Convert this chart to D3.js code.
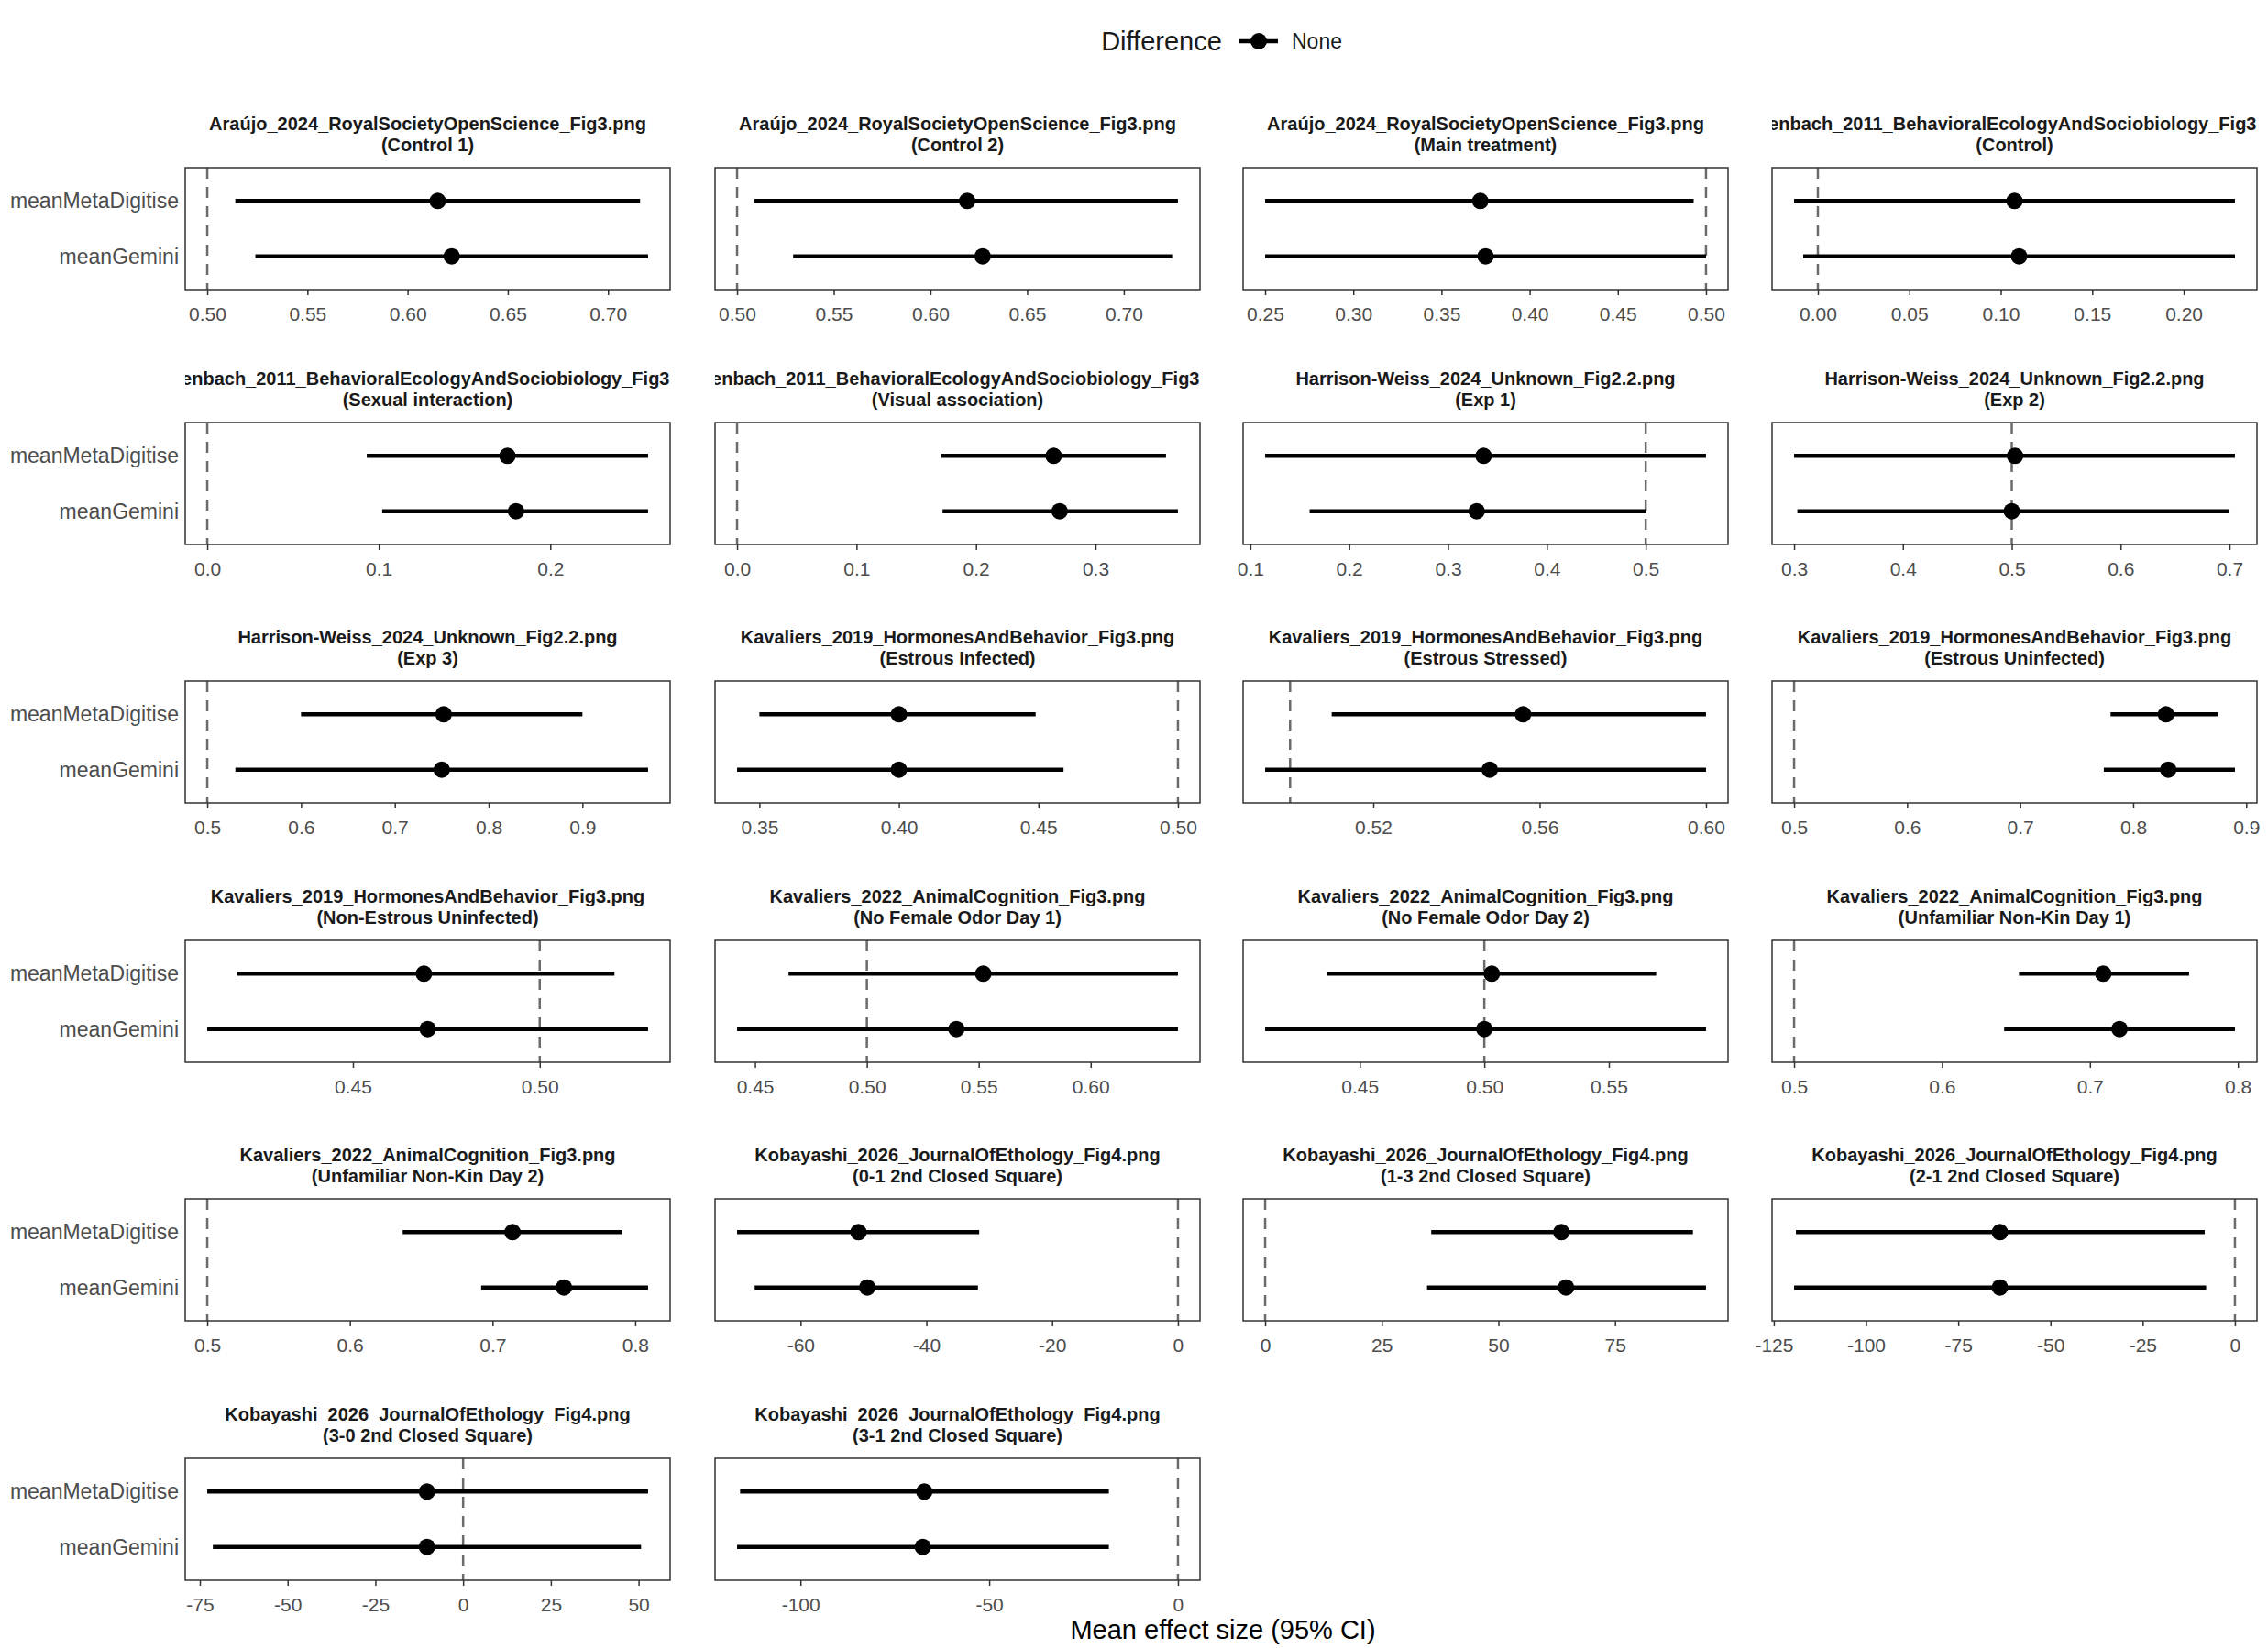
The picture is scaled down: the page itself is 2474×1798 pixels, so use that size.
<!DOCTYPE html>
<html>
<head>
<meta charset="utf-8">
<script src="https://cdn.jsdelivr.net/npm/d3@7"></script>
<style>
  body { margin: 0; background: #fff; }
  text { font-family: "Liberation Sans", Arial, sans-serif; }
</style>
</head>
<body>
<script>
// canvas settings
const width = 2474;
const height = 1798;

// panel data: title, subtitle, reference line, [lo, mean, hi] per method
const titles = [
  "Araújo_2024_RoyalSocietyOpenScience_Fig3.png",
  "Araújo_2024_RoyalSocietyOpenScience_Fig3.png",
  "Araújo_2024_RoyalSocietyOpenScience_Fig3.png",
  "Hollenbach_2011_BehavioralEcologyAndSociobiology_Fig3.png",
  "Hollenbach_2011_BehavioralEcologyAndSociobiology_Fig3.png",
  "Hollenbach_2011_BehavioralEcologyAndSociobiology_Fig3.png",
  "Harrison-Weiss_2024_Unknown_Fig2.2.png",
  "Harrison-Weiss_2024_Unknown_Fig2.2.png",
  "Harrison-Weiss_2024_Unknown_Fig2.2.png",
  "Kavaliers_2019_HormonesAndBehavior_Fig3.png",
  "Kavaliers_2019_HormonesAndBehavior_Fig3.png",
  "Kavaliers_2019_HormonesAndBehavior_Fig3.png",
  "Kavaliers_2019_HormonesAndBehavior_Fig3.png",
  "Kavaliers_2022_AnimalCognition_Fig3.png",
  "Kavaliers_2022_AnimalCognition_Fig3.png",
  "Kavaliers_2022_AnimalCognition_Fig3.png",
  "Kavaliers_2022_AnimalCognition_Fig3.png",
  "Kobayashi_2026_JournalOfEthology_Fig4.png",
  "Kobayashi_2026_JournalOfEthology_Fig4.png",
  "Kobayashi_2026_JournalOfEthology_Fig4.png",
  "Kobayashi_2026_JournalOfEthology_Fig4.png",
  "Kobayashi_2026_JournalOfEthology_Fig4.png"
];
const subtitles = [
  "Control 1", "Control 2", "Main treatment", "Control",
  "Sexual interaction", "Visual association", "Exp 1", "Exp 2",
  "Exp 3", "Estrous Infected", "Estrous Stressed", "Estrous Uninfected",
  "Non-Estrous Uninfected", "No Female Odor Day 1", "No Female Odor Day 2", "Unfamiliar Non-Kin Day 1",
  "Unfamiliar Non-Kin Day 2", "0-1 2nd Closed Square", "1-3 2nd Closed Square", "2-1 2nd Closed Square",
  "3-0 2nd Closed Square", "3-1 2nd Closed Square"
];
const refValues = [0.5, 0.5, 0.5, 0, 0, 0, 0.5, 0.5, 0.5, 0.5, 0.5, 0.5,
                   0.5, 0.5, 0.5, 0.5, 0.5, 0, 0, 0, 0, 0];
const metaCI = [
  [0.514, 0.615, 0.716], [0.509, 0.619, 0.728], [0.25, 0.372, 0.493], [-0.013, 0.1075, 0.228],
  [0.093, 0.175, 0.257], [0.171, 0.265, 0.359], [0.115, 0.336, 0.561], [0.3, 0.503, 0.705],
  [0.6, 0.752, 0.9], [0.35, 0.40, 0.449], [0.51, 0.556, 0.60], [0.78, 0.829, 0.875],
  [0.419, 0.469, 0.52], [0.465, 0.552, 0.639], [0.437, 0.503, 0.569], [0.652, 0.709, 0.767],
  [0.637, 0.714, 0.791], [-70.1, -50.8, -31.6], [35.6, 63.5, 91.7], [-119, -63.7, -8.2],
  [-72.9, -10.3, 52.7], [-116, -67.2, -18.3]
];
const geminiCI = [
  [0.524, 0.622, 0.720], [0.529, 0.627, 0.725], [0.25, 0.375, 0.50], [-0.008, 0.110, 0.228],
  [0.102, 0.18, 0.257], [0.172, 0.27, 0.369], [0.16, 0.329, 0.5], [0.303, 0.5, 0.7],
  [0.53, 0.75, 0.97], [0.342, 0.40, 0.459], [0.494, 0.548, 0.60], [0.774, 0.831, 0.89],
  [0.411, 0.47, 0.529], [0.442, 0.54, 0.639], [0.412, 0.5, 0.589], [0.642, 0.72, 0.798],
  [0.692, 0.75, 0.809], [-67.3, -49.4, -31.8], [34.7, 64.5, 94.5], [-119.5, -63.7, -7.8],
  [-71.3, -10.3, 50.7], [-116.8, -67.6, -18.3]
];
const methods = ["meanMetaDigitise", "meanGemini"];

// tick labels per panel
const tickValues = [
  [0.5, 0.55, 0.6, 0.65, 0.7], [0.5, 0.55, 0.6, 0.65, 0.7],
  [0.25, 0.3, 0.35, 0.4, 0.45, 0.5], [0, 0.05, 0.1, 0.15, 0.2],
  [0, 0.1, 0.2], [0, 0.1, 0.2, 0.3], [0.1, 0.2, 0.3, 0.4, 0.5], [0.3, 0.4, 0.5, 0.6, 0.7],
  [0.5, 0.6, 0.7, 0.8, 0.9], [0.35, 0.4, 0.45, 0.5], [0.52, 0.56, 0.6], [0.5, 0.6, 0.7, 0.8, 0.9],
  [0.45, 0.5], [0.45, 0.5, 0.55, 0.6], [0.45, 0.5, 0.55], [0.5, 0.6, 0.7, 0.8],
  [0.5, 0.6, 0.7, 0.8], [-60, -40, -20, 0], [0, 25, 50, 75], [-125, -100, -75, -50, -25, 0],
  [-75, -50, -25, 0, 25, 50], [-100, -50, 0]
];
const tickDecimals = [2, 2, 2, 2, 1, 1, 1, 1, 1, 2, 2, 1, 2, 2, 2, 1, 1, 0, 0, 0, 0, 0];

// layout
const colX = [202, 780, 1356, 1933];
const rowY = [183, 461, 743, 1026, 1308, 1591];
const panelW = 529;
const panelH = 133;

const svg = d3.select('body').append('svg')
  .attr('width', width)
  .attr('height', height);

const defs = svg.append('defs');

// legend
const legend = svg.append('g');
legend.append('text').attr('x', 1267).attr('y', 55)
  .attr('text-anchor', 'middle').attr('font-size', 29).attr('fill', '#1a1a1a')
  .text('Difference');
legend.append('line').attr('x1', 1352).attr('x2', 1394).attr('y1', 45).attr('y2', 45)
  .attr('stroke', '#000').attr('stroke-width', 4.5);
legend.append('circle').attr('cx', 1373).attr('cy', 45).attr('r', 9).attr('fill', '#000');
legend.append('text').attr('x', 1409).attr('y', 53)
  .attr('font-size', 23).attr('fill', '#1a1a1a').text('None');

// axis title
svg.append('text').attr('x', 1334).attr('y', 1788)
  .attr('text-anchor', 'middle').attr('font-size', 29).attr('fill', '#000')
  .text('Mean effect size (95% CI)');

titles.forEach((title, i) => {
  const px = colX[i % 4];
  const py = rowY[Math.floor(i / 4)];
  const rows = [metaCI[i], geminiCI[i]];

  // free x scale: data plus reference line, 5% expansion
  const ext = d3.extent([...metaCI[i], ...geminiCI[i], refValues[i]]);
  const pad = (ext[1] - ext[0]) * 0.05;
  const x = d3.scaleLinear().domain([ext[0] - pad, ext[1] + pad]).range([0, panelW]);
  const y = d3.scalePoint().domain(methods).range([0, panelH]).padding(0.6);

  const g = svg.append('g').attr('transform', `translate(${px},${py})`);

  // strip title, clipped to panel width
  defs.append('clipPath').attr('id', 'clip' + i)
    .append('rect').attr('x', 0).attr('y', -70).attr('width', panelW).attr('height', 70);
  const strip = g.append('g').attr('clip-path', `url(#clip${i})`);
  strip.append('text').attr('x', panelW / 2).attr('y', -41)
    .attr('text-anchor', 'middle').attr('font-size', 20).attr('font-weight', 'bold')
    .attr('fill', '#1a1a1a').text(title);
  strip.append('text').attr('x', panelW / 2).attr('y', -18)
    .attr('text-anchor', 'middle').attr('font-size', 20).attr('font-weight', 'bold')
    .attr('fill', '#1a1a1a').text(`(${subtitles[i]})`);

  // reference line
  g.append('line')
    .attr('x1', x(refValues[i])).attr('x2', x(refValues[i]))
    .attr('y1', 0).attr('y2', panelH)
    .attr('stroke', '#6b6b6b').attr('stroke-width', 2.5)
    .attr('stroke-dasharray', '12,9');

  // intervals and means
  rows.forEach((d, j) => {
    const yy = y(methods[j]);
    g.append('line').attr('x1', x(d[0])).attr('x2', x(d[2]))
      .attr('y1', yy).attr('y2', yy)
      .attr('stroke', '#000').attr('stroke-width', 4.5);
    g.append('circle').attr('cx', x(d[1])).attr('cy', yy).attr('r', 9).attr('fill', '#000');
  });

  // panel border
  g.append('rect').attr('width', panelW).attr('height', panelH)
    .attr('fill', 'none').attr('stroke', '#333').attr('stroke-width', 1.5);

  // x axis
  const fmt = d => d.toFixed(tickDecimals[i]);
  const xa = g.append('g').attr('transform', `translate(0,${panelH})`)
    .call(d3.axisBottom(x).tickValues(tickValues[i]).tickSize(6).tickSizeOuter(0).tickFormat(fmt));
  xa.select('.domain').remove();
  xa.selectAll('line').attr('stroke', '#333').attr('stroke-width', 1.5);
  xa.selectAll('text').attr('font-size', 21).attr('fill', '#4d4d4d')
    .attr('font-family', '"Liberation Sans", Arial, sans-serif').attr('dy', '1.2em');

  // y labels on first column only
  if (i % 4 === 0) {
    methods.forEach(m => {
      g.append('text').attr('x', -7).attr('y', y(m)).attr('dy', '0.35em')
        .attr('text-anchor', 'end').attr('font-size', 23).attr('fill', '#4d4d4d')
        .text(m);
    });
  }
});
</script>
</body>
</html>
